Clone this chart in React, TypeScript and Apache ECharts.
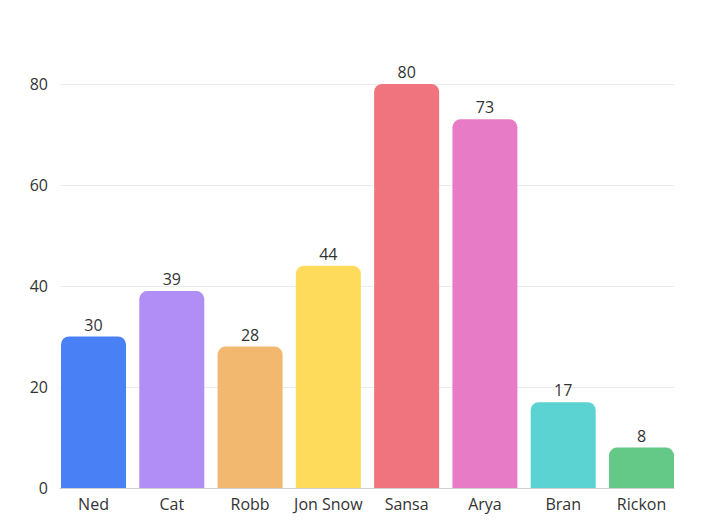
import { useEffect, useRef } from "react";
import * as echarts from "echarts";

const characters = ["Ned", "Cat", "Robb", "Jon Snow", "Sansa", "Arya", "Bran", "Rickon"];
const scores = [30, 39, 28, 44, 80, 73, 17, 8];
const barColors = ["#4a80f5", "#b08ef5", "#f2b870", "#fedb5b", "#ef747d", "#e87bc6", "#5cd3d3", "#64c887"];
const yTicks = { min: 0, max: 80, interval: 20 };

export default function App() {
  const ref = useRef<HTMLDivElement>(null);
  useEffect(() => {
    document.body.style.margin = "0";
    if (!ref.current) return;
    const chart = echarts.init(ref.current, null, { renderer: "svg" });
    const font = "'Open Sans', sans-serif";
    chart.setOption({
      animation: false,
      textStyle: { fontFamily: font },
      // grid 0 carries the frame (gridlines, y labels, base line); grid 1 carries the bars
      grid: [
        { left: 60, right: 34, top: 84, bottom: 44 },
        { left: 93.5, right: 66.5, top: 84, bottom: 44 },
      ],
      xAxis: [
        {
          gridIndex: 0,
          type: "value",
          axisLabel: { show: false },
          axisTick: { show: false },
          splitLine: { show: false },
          axisLine: { show: true, lineStyle: { color: "#d0d0d0" } },
        },
        {
          gridIndex: 1,
          type: "category",
          boundaryGap: false,
          data: characters,
          axisLine: { show: false },
          axisTick: { show: false },
          axisLabel: { interval: 0, color: "#333", fontSize: 16, fontFamily: font, margin: 8 },
        },
      ],
      yAxis: [
        {
          gridIndex: 0,
          type: "value",
          ...yTicks,
          axisLine: { show: false },
          axisTick: { show: false },
          axisLabel: { color: "#333", fontSize: 16, fontFamily: font, margin: 12 },
          splitLine: { lineStyle: { color: "#ebebeb" } },
        },
        { gridIndex: 1, type: "value", ...yTicks, show: false },
      ],
      series: [
        {
          type: "bar",
          xAxisIndex: 1,
          yAxisIndex: 1,
          barWidth: 65,
          data: scores.map((v, i) => ({ value: v, itemStyle: { color: barColors[i] } })),
          itemStyle: { borderRadius: [8, 8, 0, 0] },
          label: { show: true, position: "top", distance: 4, color: "#333", fontSize: 16, fontFamily: font },
        },
      ],
    });
    return () => chart.dispose();
  }, []);
  return <div ref={ref} style={{ width: 708, height: 532 }} />;
}
